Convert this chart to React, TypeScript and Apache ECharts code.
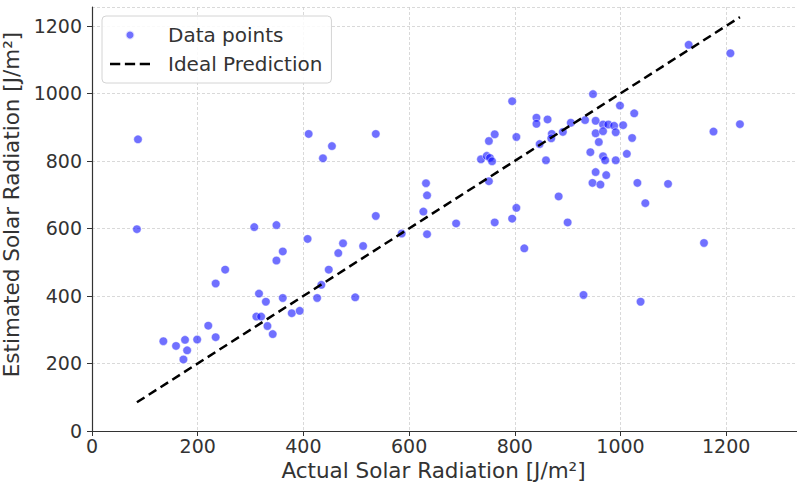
import React, { useEffect, useRef } from "react";
import * as echarts from "echarts";

// Actual solar radiation [J/m²] (x) and estimated solar radiation [J/m²] (y)
const actualValues: number[] = [
  87, 85, 135, 159, 176, 180, 173, 199, 220, 234,
  234, 252, 307, 349, 316, 329, 311, 320, 332, 342,
  349, 361, 361, 378, 393, 408, 426, 434, 448, 466,
  475, 498, 513, 537, 410, 437, 454, 537, 586, 632,
  634, 627, 634, 689, 736, 747, 753, 757, 751, 762,
  751, 795, 803, 841, 841, 862, 847, 859, 870, 869,
  891, 906, 933, 953, 953, 967, 977, 988, 967, 991,
  959, 943, 967, 971, 991, 953, 973, 947, 962, 883,
  803, 795, 762, 900, 818, 930, 1129, 1208, 948, 999,
  1026, 1005, 1022, 1012, 1032, 1090, 1176, 1226, 1047, 1158,
  1038,
];
const estimatedValues: number[] = [
  864, 598, 266, 252, 270, 239, 212, 271, 312, 278,
  437, 478, 604, 610, 407, 383, 339, 339, 311, 287,
  505, 532, 394, 349, 356, 569, 394, 433, 478, 527,
  556, 396, 548, 637, 880, 808, 844, 880, 585, 734,
  698, 650, 583, 615, 805, 815, 809, 799, 859, 879,
  740, 977, 871, 928, 910, 923, 850, 802, 880, 867,
  886, 913, 921, 919, 882, 908, 908, 904, 888, 885,
  856, 826, 814, 802, 802, 767, 758, 735, 730, 695,
  661, 629, 618, 618, 541, 403, 1144, 1119, 998, 964,
  941, 906, 868, 821, 735, 732, 887, 909, 675, 557,
  383,
];
const xTicks = { min: 0, max: 1334, step: 200 };
const yTicks = { min: 0, max: 1256, step: 200 };
const seriesNames = ["Data points", "Ideal Prediction"];
const axisTitles = ["Actual Solar Radiation [J/m²]", "Estimated Solar Radiation [J/m²]"];

const FONT = "DejaVu Sans";
const TEXT = "#333333";
const DASH_ICON = "path://M0,0h10v2.6h-10z M14.5,0h10v2.6h-10z M29,0h10v2.6h-10z";

export default function App() {
  const ref = useRef<HTMLDivElement>(null);
  useEffect(() => {
    if (!ref.current) return;
    const chart = echarts.init(ref.current, undefined, { renderer: "svg" });
    const points = actualValues.map((a, i) => [a, estimatedValues[i]]);
    const lo = Math.min(...actualValues);
    const hi = Math.max(...actualValues);
    const split = {
      show: true,
      lineStyle: { color: "#cfcfcf", width: 0.8, type: [3, 2] as any },
    };
    const axisCommon = {
      type: "value" as const,
      axisLine: { show: true, onZero: false, lineStyle: { color: "#333", width: 1.2 } },
      axisTick: { show: true, inside: false, length: 5, lineStyle: { color: "#333", width: 1 } },
      splitLine: split,
      nameLocation: "middle" as const,
    };
    const labelCommon = {
      fontSize: 19,
      color: TEXT,
      fontFamily: FONT,
      showMaxLabel: false,
      formatter: (v: number) => String(v),
    };
    chart.setOption({
      animation: false,
      backgroundColor: "#ffffff",
      textStyle: { fontFamily: FONT },
      grid: { left: 92, right: 0, top: 7, bottom: 53, containLabel: false, outerBoundsMode: "none" },
      xAxis: {
        ...axisCommon,
        min: xTicks.min,
        max: xTicks.max,
        interval: xTicks.step,
        name: axisTitles[0],
        nameGap: 27,
        nameTextStyle: { fontSize: 21.5, color: TEXT, fontFamily: FONT, padding: [0, 22, 0, 0] },
        axisLabel: { ...labelCommon, margin: 5 },
      },
      yAxis: {
        ...axisCommon,
        min: yTicks.min,
        max: yTicks.max,
        interval: yTicks.step,
        name: axisTitles[1],
        nameGap: 50,
        nameTextStyle: { fontSize: 21.5, color: TEXT, fontFamily: FONT, padding: [0, 0, 0, 29] },
        axisLabel: { ...labelCommon, margin: 10 },
      },
      legend: {
        orient: "vertical",
        left: 102,
        top: 16,
        padding: [9, 9, 9, 8],
        itemWidth: 40,
        itemHeight: 9,
        itemGap: 9,
        borderColor: "#d4d4d4",
        borderWidth: 1,
        borderRadius: 4,
        backgroundColor: "rgba(255,255,255,0.85)",
        textStyle: { fontSize: 20, color: TEXT, fontFamily: FONT, padding: [0, 0, 0, 13] },
        data: [
          { name: seriesNames[0], icon: "circle" },
          { name: seriesNames[1], icon: DASH_ICON, itemStyle: { color: "#000000" } },
        ],
      },
      series: [
        {
          name: seriesNames[0],
          type: "scatter",
          data: points,
          symbolSize: 8.5,
          itemStyle: { color: "rgba(0,0,255,0.7)", borderColor: "#ffffff", borderWidth: 0.6 },
          z: 2,
        },
        {
          name: seriesNames[1],
          type: "line",
          data: [
            [lo, lo],
            [hi, hi],
          ],
          symbol: "none",
          itemStyle: { color: "#000000" },
          lineStyle: { color: "#000000", width: 2.5, type: [9, 5] as any },
          z: 3,
        },
      ],
    });
    return () => chart.dispose();
  }, []);
  return (
    <div
      ref={ref}
      style={{ position: "absolute", left: 0, top: 0, width: 797, height: 484 }}
    />
  );
}
